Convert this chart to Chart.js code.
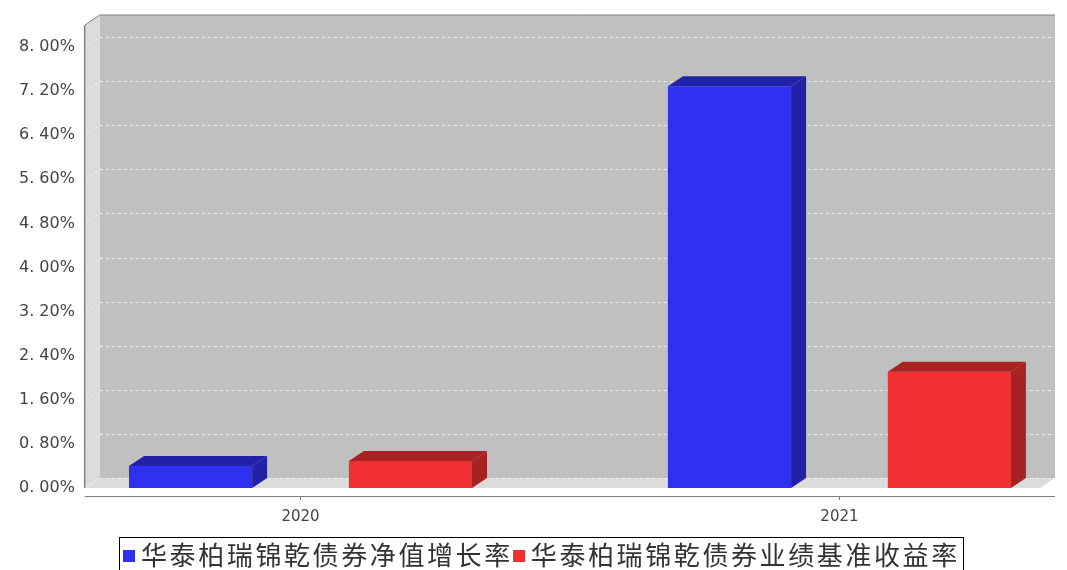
<!DOCTYPE html>
<html><head><meta charset="utf-8">
<script src="https://cdn.jsdelivr.net/npm/chart.js@4/dist/chart.umd.min.js"></script>
<style>
body{margin:0;background:#fff;font-family:"Noto Sans CJK SC",sans-serif;}
#wrap{position:relative;width:1067px;height:538px;}
#legend{position:absolute;left:119px;top:537px;border:1px solid #000;padding:0 3px;font-size:26px;letter-spacing:2.6px;line-height:32px;color:#333;white-space:nowrap;}
#legend span.b{display:inline-block;width:12px;height:12px;margin-right:6px;vertical-align:3px;}
</style></head><body>
<div id="wrap"><canvas id="c" width="1067" height="538"></canvas></div>
<div id="legend"><span class="b" style="background:#3030f0"></span>华泰柏瑞锦乾债券净值增长率<span class="b" style="background:#f03030"></span>华泰柏瑞锦乾债券业绩基准收益率</div>
<script>
const categories = ['2020', '2021'];
const seriesNames = ['华泰柏瑞锦乾债券净值增长率', '华泰柏瑞锦乾债券业绩基准收益率'];
const navGrowth = [0.40, 7.29];
const benchmark = [0.49, 2.11];
const yTicks = [0, 0.8, 1.6, 2.4, 3.2, 4.0, 4.8, 5.6, 6.4, 7.2, 8.0];

const DX = 15, DY = -10;

// background walls + 3D faces of bars
const threeD = {
  id: 'threeD',
  beforeDatasetsDraw(chart) {
    const {ctx, chartArea: a, scales: {y}} = chart;
    ctx.save();
    // back wall
    ctx.fillStyle = '#c0c0c0';
    ctx.fillRect(a.left + DX, a.top + DY, a.right - a.left - DX, a.bottom - a.top);
    // left wall
    ctx.fillStyle = '#dcdcdc';
    ctx.beginPath();
    ctx.moveTo(a.left, a.top); ctx.lineTo(a.left + DX, a.top + DY);
    ctx.lineTo(a.left + DX, a.bottom + DY); ctx.lineTo(a.left, a.bottom);
    ctx.closePath(); ctx.fill();
    // floor
    ctx.beginPath();
    ctx.moveTo(a.left, a.bottom); ctx.lineTo(a.left + DX, a.bottom + DY);
    ctx.lineTo(a.right, a.bottom + DY); ctx.lineTo(a.right - DX, a.bottom);
    ctx.closePath(); ctx.fill();
    // grid lines on back wall
    ctx.strokeStyle = '#f0f0f0'; ctx.setLineDash([3, 3]); ctx.lineWidth = 1;
    yTicks.forEach(t => {
      const py = Math.round(y.getPixelForValue(t) + DY) + 0.5;
      ctx.beginPath(); ctx.moveTo(a.left + DX, py); ctx.lineTo(a.right, py); ctx.stroke();
      ctx.beginPath(); ctx.moveTo(a.left, py - DY); ctx.lineTo(a.left + DX, py); ctx.stroke();
    });
    ctx.setLineDash([]);
    // frame
    ctx.strokeStyle = '#808080';
    ctx.beginPath();
    ctx.moveTo(a.left, a.bottom); ctx.lineTo(a.left, a.top); ctx.lineTo(a.left + DX, a.top + DY);
    ctx.lineTo(a.right, a.top + DY); ctx.stroke();
    ctx.restore();
  },
  afterDatasetsDraw(chart) {
    const {ctx, chartArea: a} = chart;
    const sides = ['#2222a8', '#a82222'];
    ctx.save();
    chart.data.datasets.forEach((ds, i) => {
      chart.getDatasetMeta(i).data.forEach(bar => {
        const l = bar.x - bar.width / 2, r = bar.x + bar.width / 2, t = bar.y, b = bar.base;
        ctx.fillStyle = sides[i];
        ctx.beginPath();
        ctx.moveTo(l, t); ctx.lineTo(l + DX, t + DY); ctx.lineTo(r + DX, t + DY); ctx.lineTo(r, t);
        ctx.closePath(); ctx.fill();
        ctx.beginPath();
        ctx.moveTo(r, t); ctx.lineTo(r + DX, t + DY); ctx.lineTo(r + DX, b + DY); ctx.lineTo(r, b);
        ctx.closePath(); ctx.fill();
      });
    });
    // axis lines
    ctx.strokeStyle = '#808080'; ctx.lineWidth = 1;
    ctx.beginPath(); ctx.moveTo(a.left - 0.5, a.top); ctx.lineTo(a.left - 0.5, a.bottom); ctx.stroke();
    ctx.beginPath(); ctx.moveTo(a.left, a.bottom + 8.5); ctx.lineTo(a.right, a.bottom + 8.5); ctx.stroke();
    categories.forEach((c, i) => {
      const px = Math.round(chart.scales.x.getPixelForValue(i)) + 0.5;
      ctx.beginPath(); ctx.moveTo(px, a.bottom + 8); ctx.lineTo(px, a.bottom + 12); ctx.stroke();
    });
    ctx.restore();
  }
};

new Chart(document.getElementById('c'), {
  type: 'bar',
  data: {
    datasets: [
      { label: seriesNames[0], data: navGrowth.map((v, i) => ({x: i, y: v})), backgroundColor: '#3030f0', categoryPercentage: 0.816, barPercentage: 0.56 },
      { label: seriesNames[1], data: benchmark.map((v, i) => ({x: i, y: v})), backgroundColor: '#f03030', categoryPercentage: 0.816, barPercentage: 0.56 }
    ]
  },
  options: {
    responsive: false, animation: false,
    layout: { padding: { top: 25, right: 12, left: 13, bottom: 0 } },
    plugins: { legend: { display: false }, tooltip: { enabled: false } },
    scales: {
      x: {
        type: 'linear', min: -0.4, max: 1.4, offset: false,
        afterBuildTicks: s => { s.ticks = categories.map((c, i) => ({value: i})); },
        ticks: { callback: v => categories[v], color: '#444', font: { size: 15, family: 'DejaVu Sans' }, padding: 12 },
        grid: { display: false, drawTicks: true },
        border: { display: false }
      },
      y: {
        min: 0, max: 8.4,
        afterBuildTicks: s => { s.ticks = yTicks.map(v => ({value: v})); },
        ticks: { callback: v => v.toFixed(2).replace('.', '. ') + '%', color: '#444', font: { size: 16, family: 'DejaVu Sans' }, padding: 6 },
        grid: { display: false, drawTicks: true, tickLength: 4 },
        border: { display: false }
      }
    }
  },
  plugins: [threeD]
});
</script>
</body></html>
